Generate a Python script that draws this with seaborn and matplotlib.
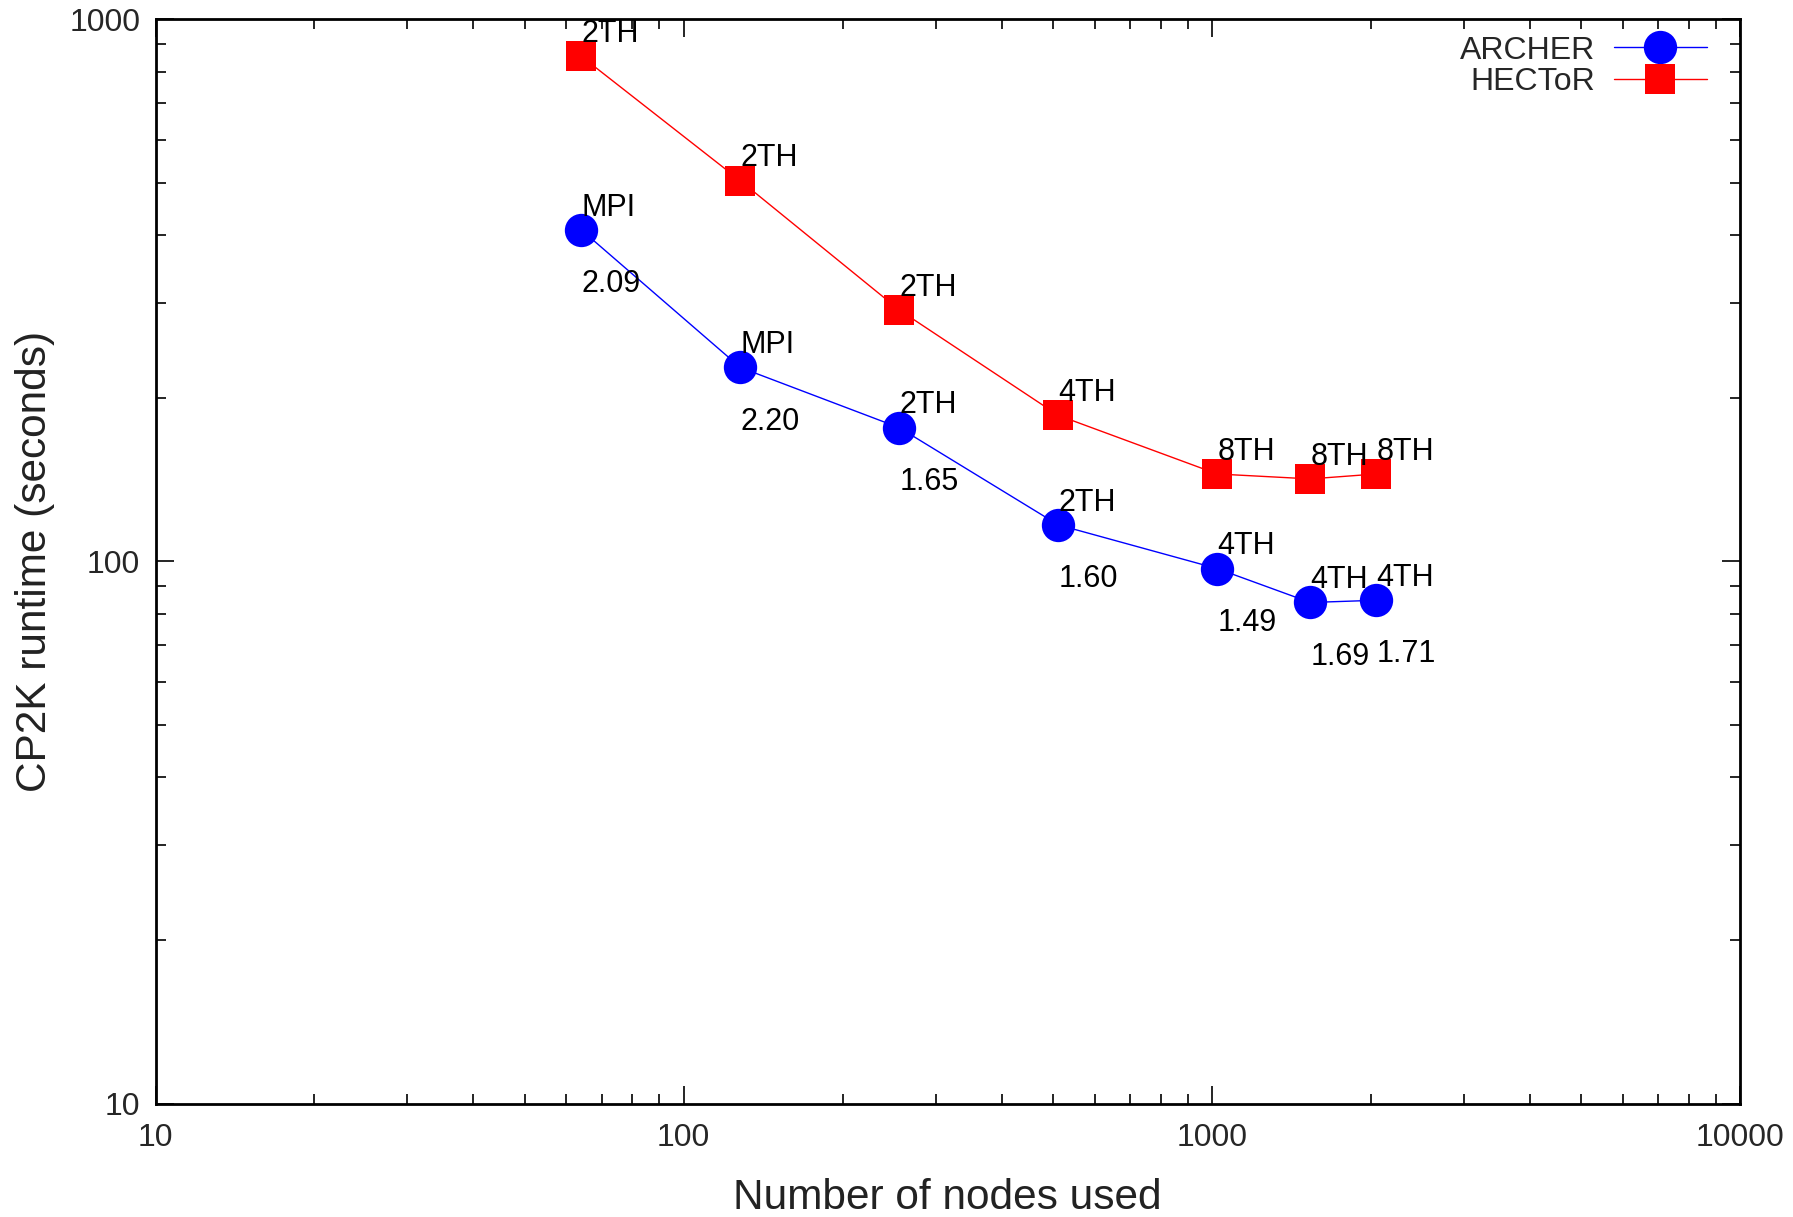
import matplotlib
matplotlib.use("Agg")
import matplotlib.pyplot as plt
import seaborn as sns
import pandas as pd
from matplotlib.ticker import LogLocator, NullFormatter, FixedLocator, FixedFormatter

nodes = [64, 128, 256, 512, 1024, 1536, 2048]
archer_time = [409, 228, 176.5, 116.8, 97, 84, 84.8]
hector_time = [855, 504, 291, 186, 145, 142, 145]
archer_mode = ["MPI", "MPI", "2TH", "2TH", "4TH", "4TH", "4TH"]
hector_mode = ["2TH", "2TH", "2TH", "4TH", "8TH", "8TH", "8TH"]
ratios = ["2.09", "2.20", "1.65", "1.60", "1.49", "1.69", "1.71"]
x_ticks = [10, 100, 1000, 10000]
y_ticks = [10, 100, 1000]

sns.set_theme(style="ticks")
plt.rcParams["font.family"] = ["Liberation Sans", "DejaVu Sans"]

df = pd.DataFrame({
    "nodes": nodes + nodes,
    "time": archer_time + hector_time,
    "system": ["ARCHER"] * len(nodes) + ["HECToR"] * len(nodes),
})

fig = plt.figure(figsize=(17.93, 12.17), dpi=100)
ax = fig.add_axes([155.5 / 1793, 1 - 1103.5 / 1217, (1740 - 155.5) / 1793, (1103.5 - 19.4) / 1217])

sns.lineplot(data=df, x="nodes", y="time", hue="system", style="system",
             markers={"ARCHER": "o", "HECToR": "s"}, dashes=False,
             palette={"ARCHER": "blue", "HECToR": "red"},
             linewidth=1.0, ax=ax, legend=False)

sizes = {"ARCHER": 24, "HECToR": 22}
for line, name in zip(ax.lines, ["ARCHER", "HECToR"]):
    c = line.get_color()
    line.set_markeredgecolor(c)
    line.set_markerfacecolor(c)
    line.set_markersize(sizes[name])
    line.set_markeredgewidth(0)
    line.set_label(name)

ax.set_xscale("log")
ax.set_yscale("log")
ax.set_xlim(10, 10000)
ax.set_ylim(10, 1000)

fs_ann = 22
for xi, yi, m in zip(nodes, archer_time, archer_mode):
    ax.annotate(m, (xi, yi), xytext=(0, 16), textcoords="offset points",
                ha="left", va="center", fontsize=fs_ann, color="black")
for xi, yi, r in zip(nodes, archer_time, ratios):
    ax.annotate(r, (xi, yi), xytext=(0, -39), textcoords="offset points",
                ha="left", va="center", fontsize=fs_ann, color="black")
for xi, yi, m in zip(nodes, hector_time, hector_mode):
    ax.annotate(m, (xi, yi), xytext=(0, 16), textcoords="offset points",
                ha="left", va="center", fontsize=fs_ann, color="black")

ax.xaxis.set_major_locator(FixedLocator(x_ticks))
ax.xaxis.set_major_formatter(FixedFormatter([str(v) for v in x_ticks]))
ax.yaxis.set_major_locator(FixedLocator(y_ticks))
ax.yaxis.set_major_formatter(FixedFormatter([str(v) for v in y_ticks]))
ax.xaxis.set_minor_locator(LogLocator(base=10, subs=range(2, 10)))
ax.yaxis.set_minor_locator(LogLocator(base=10, subs=range(2, 10)))
ax.xaxis.set_minor_formatter(NullFormatter())
ax.yaxis.set_minor_formatter(NullFormatter())

ax.tick_params(which="both", direction="in", top=True, right=True, color="black", width=1.2)
ax.tick_params(which="major", length=13, labelsize=23)
ax.tick_params(axis="x", which="major", pad=14)
ax.tick_params(axis="y", which="major", pad=11)
ax.tick_params(which="minor", length=7)
for s in ax.spines.values():
    s.set_linewidth(2)
    s.set_color("black")
ax.grid(False)

ax.set_xlabel("Number of nodes used", fontsize=30.5, color="#222222", labelpad=18)
ax.set_ylabel("CP2K runtime (seconds)", fontsize=30.5, color="#222222", labelpad=10)

ax.legend(handles=ax.lines[:2], labels=["ARCHER", "HECToR"], loc="upper right",
          bbox_to_anchor=(0.979, 0.985), frameon=False, markerfirst=False,
          fontsize=23, labelspacing=0.05, handlelength=2.9, handletextpad=0.6,
          borderpad=0, borderaxespad=0)

fig.savefig("out.png", dpi=100)
